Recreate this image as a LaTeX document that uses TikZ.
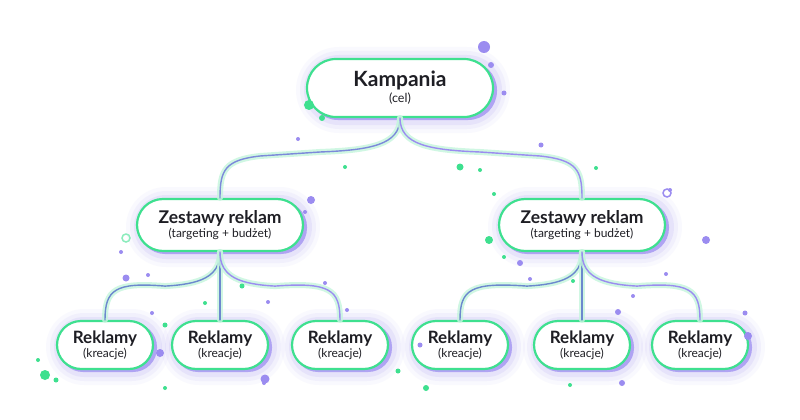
\documentclass[tikz,border=0pt]{standalone}
\usepackage{fontspec}
\setmainfont{Lato}
\usetikzlibrary{calc}
\definecolor{gr}{HTML}{3EE08F}
\definecolor{pu}{HTML}{9B8CF0}
\definecolor{tx}{HTML}{1E1E24}
\begin{document}
\begin{tikzpicture}[x=1pt,y=-1pt,
  box/.style={draw=gr,line width=2.2pt,fill=white,rounded corners=#1,inner sep=0pt,align=center,text=tx},
  link/.style={line cap=round},
]
\useasboundingbox (0,0) rectangle (800,420);
\fill[white] (0,0) rectangle (800,420);
\newcommand\pill[5]{% name, x, y, w, h
  \foreach \g/\o in {14/0.05,10/0.08,6/0.12}{
    \fill[pu,opacity=\o,rounded corners=#5*0.5+\g] (#2-#4/2-\g+3,#3-#5/2-\g+2) rectangle (#2+#4/2+\g+3,#3+#5/2+\g+2);}
  \fill[pu!80,rounded corners=#5*0.5] (#2-#4/2+2,#3-#5/2+2) rectangle (#2+#4/2+4,#3+#5/2+3);
}
\pill{k}{400}{88}{186}{58}
\pill{zl}{220}{225}{166}{52}
\pill{zr}{582}{225}{166}{52}
\foreach \x in {105,220,340,460,582,700}{\pill{r}{\x}{345}{96}{48}}
\node[box=29pt,minimum width=186pt,minimum height=58pt] (k) at (400,88)
  {{\fontsize{21}{23}\selectfont\bfseries Kampania}\\[2pt]{\fontsize{12.5}{14}\selectfont (cel)}};
\foreach \n/\x in {zl/220,zr/582}
  \node[box=26pt,minimum width=166pt,minimum height=52pt] (\n) at (\x,225)
  {{\fontsize{17.5}{19}\selectfont\bfseries Zestawy reklam}\\[1pt]{\fontsize{12}{13}\selectfont (targeting + budżet)}};
\foreach \n/\x in {r1/105,r2/220,r3/340,r4/460,r5/582,r6/700}
  \node[box=24pt,minimum width=96pt,minimum height=48pt] (\n) at (\x,345)
  {{\fontsize{17}{18}\selectfont\bfseries Reklamy}\\[1pt]{\fontsize{12}{13}\selectfont (kreacje)}};
\newcommand\conn[2]{%
  \draw[link,gr!30,line width=6pt,opacity=0.8] #1;
  \draw[link,#2,line width=1.4pt] #1;}
\conn{(k.south) .. controls (400,145) and (370,150) .. (320,152) -- (260,156) .. controls (225,160) and (220,170) .. (zl.north)}{pu!80!teal}
\conn{(k.south) .. controls (400,145) and (430,150) .. (480,152) -- (540,156) .. controls (577,160) and (582,170) .. (zr.north)}{pu}
\foreach \z/\a/\b/\c in {zl/r1/r2/r3,zr/r4/r5/r6}{
  \conn{(\z.south) .. controls ($(\z.south)+(0,25)$) and ($(\z.south)+(-20,32)$) .. ($(\z.south)+(-55,34)$) .. controls ($(\a.north)+(10,-38)$) and ($(\a.north)+(0,-30)$) .. (\a.north)}{pu!70!teal}
  \conn{(\z.south) -- (\b.north)}{pu!70!teal}
  \conn{(\z.south) .. controls ($(\z.south)+(0,25)$) and ($(\z.south)+(20,32)$) .. ($(\z.south)+(55,34)$) .. controls ($(\c.north)+(-10,-38)$) and ($(\c.north)+(0,-30)$) .. (\c.north)}{pu}
}
\foreach \x/\y/\r/\c in {484/47/6/pu,491/65/3/pu,504/93/2.5/pu,309/105/5/gr,322/118/3/gr,298/139/2/pu,345/167/2/gr,460/167/3.5/gr,480/170/2/gr,541/145/2.5/pu,494/194/2/gr,489/240/4/gr,504/257/2/gr,311/200/4/pu,305/212/2/pu,596/168/2/gr,670/190/2/pu,706/240/4/pu,666/274/2/pu,121/252/2/pu,126/278/3.5/pu,148/275/2/pu,165/325/2.5/gr,160/353/4/pu,165/388/2/gr,38/360/2/gr,45/375/5/gr,56/380/2.5/gr,264/383/2/pu,265/379/4.5/pu,325/283/2/pu,347/310/2/pu,398/371/2.5/gr,420/345/2.5/pu,426/388/3/gr,573/281/2/gr,618/312/3/pu,633/296/2/pu,622/383/3/pu,745/313/2.5/pu,748/336/4/pu,520/263/3/pu,530/279/2/pu,242/286/2.5/gr,205/303/2/gr,152/313/2/pu,268/302/2/pu,570/385/2/gr}
  \fill[\c] (\x,\y) circle (\r);
\draw[pu,line width=1.5pt] (667,193) circle (4);
\draw[gr!60,line width=1.5pt] (126,238) circle (4);
\end{tikzpicture}
\end{document}
